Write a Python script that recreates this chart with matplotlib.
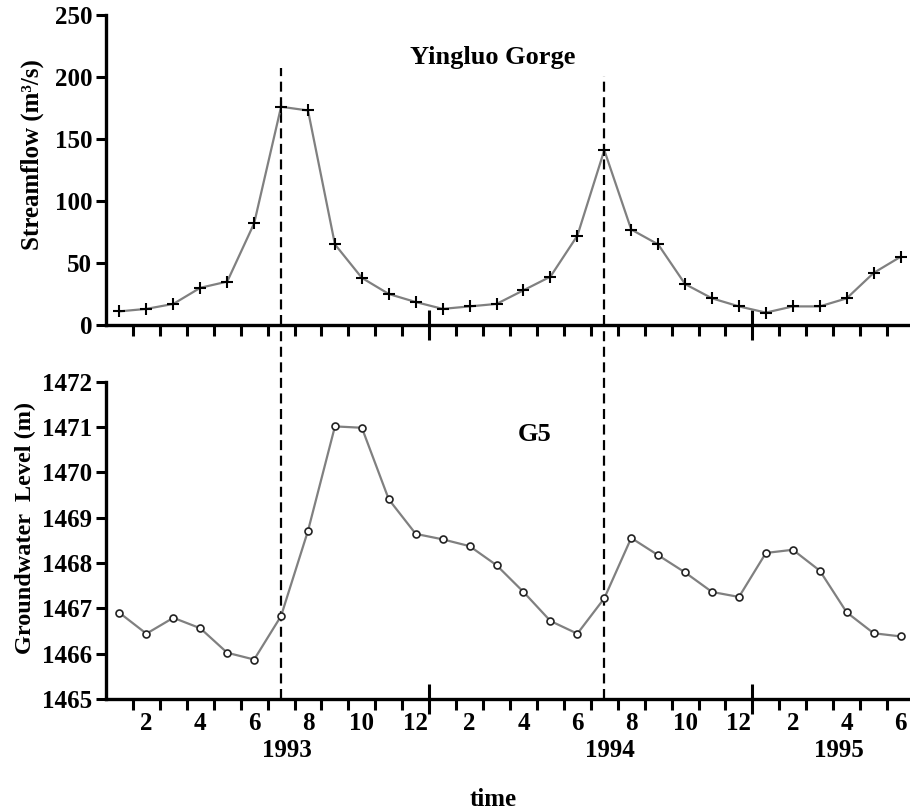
import matplotlib
matplotlib.use("Agg")
import matplotlib.pyplot as plt
from matplotlib.ticker import FixedLocator, NullFormatter, FormatStrFormatter
import numpy as np

plt.rcParams["font.family"] = ["Liberation Serif", "DejaVu Serif"]
plt.rcParams["font.weight"] = "bold"
plt.rcParams["axes.labelweight"] = "bold"

# months since Jan 1993 (1 = Jan 1993 ... 30 = Jun 1995)
months = np.arange(1, 31)
streamflow = [11, 13, 17, 30, 35, 82, 176, 173, 65, 38, 25, 18.5,
              13, 15, 17, 28, 39, 72, 141, 77, 65, 33, 21.5, 15,
              10, 15, 15, 21.5, 42, 55]
groundwater = [1466.90, 1466.44, 1466.79, 1466.56, 1466.02, 1465.87,
               1466.83, 1468.71, 1471.01, 1470.98, 1469.40, 1468.64,
               1468.52, 1468.37, 1467.95, 1467.36, 1466.72, 1466.44,
               1467.22, 1468.55, 1468.17, 1467.79, 1467.36, 1467.25,
               1468.22, 1468.29, 1467.83, 1466.91, 1466.45, 1466.38]

label_pos = np.arange(2, 31, 2)
month_labels = ["2", "4", "6", "8", "10", "12"] * 2 + ["2", "4", "6"]
year_bounds = [12.5, 24.5]
years = ["1993", "1994", "1995"]
year_pos = [7.2, 19.2, 27.7]
flood_months = [7, 19]
flood_tops = [207, 201]   # top end of the dashed markers, in streamflow units

LINEC = "#808080"
FS = 18

fig = plt.figure(figsize=(9.1, 8.1), dpi=100)
ax1 = fig.add_axes([106 / 910, 1 - 325 / 810, 804 / 910, 310 / 810])
ax2 = fig.add_axes([106 / 910, 1 - 699 / 810, 804 / 910, 317.5 / 810])

ax1.plot(months, streamflow, color=LINEC, lw=1.6, marker="+", ms=9,
         mec="black", mew=1.5, zorder=3)
ax2.plot(months, groundwater, color=LINEC, lw=1.6, marker="o", ms=5,
         mfc="white", mec="#222222", mew=1.2, zorder=3)

ax1.set_ylim(0, 250)
ax1.set_yticks(np.arange(0, 251, 50))
ax2.set_ylim(1465, 1472)
ax2.set_yticks(np.arange(1465, 1473, 1))
ax2.yaxis.set_major_formatter(FormatStrFormatter("%d"))

for ax in (ax1, ax2):
    ax.set_xlim(0.5, 30.35)
    for s in ("top", "right"):
        ax.spines[s].set_visible(False)
    for s in ("left", "bottom"):
        ax.spines[s].set_linewidth(2.4)
    ax.xaxis.set_major_locator(FixedLocator(year_bounds))
    ax.xaxis.set_major_formatter(NullFormatter())
    ax.xaxis.set_minor_locator(FixedLocator(np.arange(1.5, 30, 1)))
    ax.tick_params(axis="x", which="major", direction="inout", length=22, width=2.2)
    ax.tick_params(axis="x", which="minor", direction="out", length=8, width=2.2)
    ax.tick_params(axis="y", direction="out", length=7, width=2.2, labelsize=FS, pad=3)

# month numbers under the lower panel
sec = ax2.secondary_xaxis("bottom")
sec.spines["bottom"].set_visible(False)
sec.set_xticks(label_pos)
sec.set_xticklabels(month_labels)
sec.tick_params(length=0, labelsize=FS, pad=9)

for x, lab in zip(year_pos, years):
    ax2.text(x, -0.162, lab, transform=ax2.get_xaxis_transform(),
             ha="center", va="center", fontsize=FS)

# dashed markers at the flood peaks, running through both panels
for x, top in zip(flood_months, flood_tops):
    ax1.axvline(x, ymin=0, ymax=top / 250, color="black", lw=1.6,
                ls=(0, (4.5, 2.5)), zorder=2)
    ax2.axvline(x, ymin=0, ymax=1.18, color="black", lw=1.6,
                ls=(0, (4.5, 2.5)), zorder=2, clip_on=False)

ax1.text(14.86, 216, "Yingluo Gorge", ha="center", va="center", fontsize=19)
ax2.text(16.4, 1470.84, "G5", ha="center", va="center", fontsize=19)

ax1.set_ylabel("Streamflow (m³/s)", fontsize=FS)
ax1.yaxis.set_label_coords(-0.077, 0.55)
ax2.set_ylabel("Groundwater  Level (m)", fontsize=17.5)
ax2.yaxis.set_label_coords(-0.087, 0.54)

fig.text(493 / 910, 1 - 800 / 810, "time", ha="center", va="center", fontsize=FS)

fig.savefig("out.png", dpi=100, facecolor="white")
